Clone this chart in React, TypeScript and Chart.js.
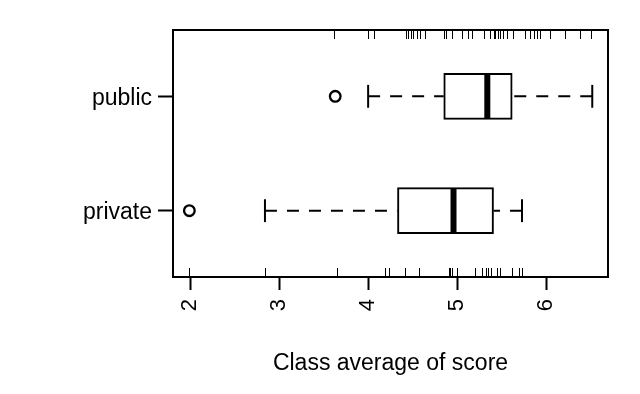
import React, { useEffect, useRef } from "react";
import { Chart, registerables } from "chart.js";

Chart.register(...registerables);

// Groups (y positions 1 = bottom, 2 = top)
const categories = ["private", "public"];
const positions = [1, 2];
const whiskerLow = [2.84, 4.0];
const q1 = [4.33, 4.85];
const median = [4.96, 5.34];
const q3 = [5.41, 5.62];
const whiskerHigh = [5.73, 6.52];
const outliers = [[1.99], [3.63]];

// Rug marks (top = public, bottom = private)
const rugPublic = [
  3.62, 4.0, 4.07, 4.43, 4.45, 4.48, 4.5, 4.55, 4.58, 4.64, 4.85, 4.88, 4.94,
  5.06, 5.12, 5.17, 5.3, 5.37, 5.41, 5.43, 5.46, 5.48, 5.52, 5.56, 5.63, 5.76,
  5.82, 5.86, 5.9, 5.93, 6.04, 6.21, 6.38, 6.51,
];
const rugPrivate = [
  1.99, 2.84, 3.65, 4.19, 4.24, 4.42, 4.57, 4.91, 4.92, 4.94, 5.0, 5.2, 5.28,
  5.32, 5.35, 5.38, 5.45, 5.48, 5.62, 5.7, 5.73,
];

const xTicks = [2, 3, 4, 5, 6];
const xTitle = "Class average of score";

const FONT = "'Liberation Sans', Arial, Helvetica, sans-serif";

const boxExtras = {
  id: "boxExtras",
  beforeDatasetsDraw(chart: any) {
    const { ctx, scales } = chart;
    const xs = scales.x;
    const ys = scales.y;
    ctx.save();
    ctx.strokeStyle = "#000";
    ctx.lineWidth = 2;
    positions.forEach((p, i) => {
      const y = ys.getPixelForValue(p);
      // dashed whiskers, drawn from whisker end towards box
      ctx.setLineDash([12, 10]);
      ctx.beginPath();
      ctx.moveTo(xs.getPixelForValue(whiskerLow[i]), y);
      ctx.lineTo(xs.getPixelForValue(q1[i]), y);
      ctx.stroke();
      ctx.beginPath();
      ctx.moveTo(xs.getPixelForValue(whiskerHigh[i]), y);
      ctx.lineTo(xs.getPixelForValue(q3[i]), y);
      ctx.stroke();
      ctx.setLineDash([]);
      // staples
      const half = Math.abs(ys.getPixelForValue(p + 0.1) - y);
      [whiskerLow[i], whiskerHigh[i]].forEach((v) => {
        const x = xs.getPixelForValue(v);
        ctx.beginPath();
        ctx.moveTo(x, y - half);
        ctx.lineTo(x, y + half);
        ctx.stroke();
      });
    });
    ctx.restore();
  },
  afterDatasetsDraw(chart: any) {
    const { ctx, scales, chartArea } = chart;
    const xs = scales.x;
    const ys = scales.y;
    ctx.save();
    ctx.strokeStyle = "#000";
    positions.forEach((p, i) => {
      const y = ys.getPixelForValue(p);
      const half = Math.abs(ys.getPixelForValue(p + 0.2) - y) - 1;
      // median
      const mx = xs.getPixelForValue(median[i]);
      ctx.lineWidth = 6;
      ctx.lineCap = "butt";
      ctx.beginPath();
      ctx.moveTo(mx, y - half);
      ctx.lineTo(mx, y + half);
      ctx.stroke();
      // outliers
      ctx.lineWidth = 2.3;
      outliers[i].forEach((v) => {
        ctx.beginPath();
        ctx.arc(xs.getPixelForValue(v), y, 5.3, 0, Math.PI * 2);
        ctx.fillStyle = "#fff";
        ctx.fill();
        ctx.stroke();
      });
    });
    // rugs
    ctx.lineWidth = 1;
    rugPublic.forEach((v) => {
      const x = Math.round(xs.getPixelForValue(v)) + 0.5;
      ctx.beginPath();
      ctx.moveTo(x, chartArea.top);
      ctx.lineTo(x, chartArea.top + 9);
      ctx.stroke();
    });
    rugPrivate.forEach((v) => {
      const x = Math.round(xs.getPixelForValue(v)) + 0.5;
      ctx.beginPath();
      ctx.moveTo(x, chartArea.bottom);
      ctx.lineTo(x, chartArea.bottom - 9);
      ctx.stroke();
    });
    // frame
    ctx.lineWidth = 2;
    ctx.strokeRect(
      chartArea.left,
      chartArea.top,
      chartArea.right - chartArea.left,
      chartArea.bottom - chartArea.top
    );
    ctx.restore();
  },
};

export default function App() {
  const ref = useRef<HTMLCanvasElement>(null);
  useEffect(() => {
    if (!ref.current) return;
    const chart = new Chart(ref.current, {
      type: "bar",
      data: {
        datasets: [
          {
            data: positions.map((p, i) => ({ y: p, x: [q1[i], q3[i]] })) as any,
            backgroundColor: "#fff",
            borderColor: "#000",
            borderWidth: 2,
            borderSkipped: false,
            barThickness: 46,
          },
        ],
      },
      options: {
        indexAxis: "y",
        animation: false,
        responsive: false,
        devicePixelRatio: 1,
        layout: { padding: { top: 30, right: 32, left: 0, bottom: 0 } },
        plugins: {
          legend: { display: false },
          tooltip: { enabled: false },
        },
        scales: {
          x: {
            type: "linear",
            min: 1.806,
            max: 6.697,
            offset: false,
            afterBuildTicks: (s: any) => {
              s.ticks = xTicks.map((v) => ({ value: v }));
            },
            afterFit: (s: any) => {
              s.height = 117;
            },
            grid: {
              offset: false,
              drawOnChartArea: false,
              drawTicks: true,
              tickLength: 13,
              tickWidth: 2,
              tickColor: "#000",
            },
            border: { display: false },
            ticks: {
              minRotation: 90,
              maxRotation: 90,
              padding: 9,
              color: "#000",
              font: { family: FONT, size: 22 },
              callback: (v: any) => String(v),
            },
            title: {
              display: true,
              text: xTitle,
              color: "#000",
              font: { family: FONT, size: 23 },
              padding: { top: 0, bottom: 17 },
            },
          },
          y: {
            type: "linear",
            min: 0.42,
            max: 2.58,
            offset: false,
            afterBuildTicks: (s: any) => {
              s.ticks = positions.map((v) => ({ value: v }));
            },
            afterFit: (s: any) => {
              s.width = 173;
            },
            grid: {
              offset: false,
              drawOnChartArea: false,
              drawTicks: true,
              tickLength: 15,
              tickWidth: 2,
              tickColor: "#000",
            },
            border: { display: false },
            ticks: {
              padding: 6,
              labelOffset: 2,
              color: "#000",
              font: { family: FONT, size: 23 },
              callback: (v: any) => {
                const idx = positions.indexOf(Number(v));
                return idx >= 0 ? categories[idx] : "";
              },
            },
          },
        },
      },
      plugins: [boxExtras],
    });
    return () => chart.destroy();
  }, []);
  return (
    <div style={{ position: "absolute", left: 0, top: 0, width: 640, height: 394, background: "#fff" }}>
      <canvas ref={ref} width={640} height={394} style={{ width: 640, height: 394 }} />
    </div>
  );
}
